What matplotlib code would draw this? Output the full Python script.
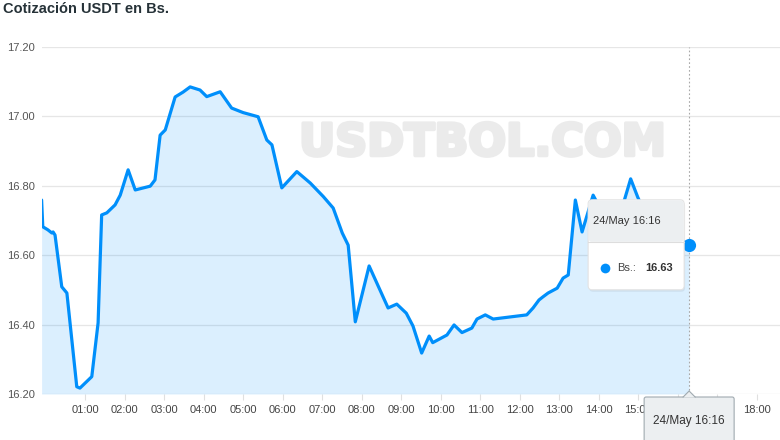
import matplotlib
matplotlib.use("Agg")
import matplotlib.pyplot as plt
import matplotlib.patheffects as pe
from matplotlib.patches import FancyBboxPatch, Polygon
from matplotlib.transforms import IdentityTransform

plt.rcParams['font.family'] = ['Liberation Sans', 'DejaVu Sans']

# USDT price in Bs. through the day (hours after midnight, 24/May)
hours = [-0.10, -0.07, 0.06, 0.16, 0.19, 0.24, 0.41, 0.54, 0.79, 0.87,
         1.17, 1.33, 1.42, 1.55, 1.76, 1.89, 2.09, 2.27, 2.65, 2.77,
         2.90, 3.03, 3.28, 3.48, 3.66, 3.91, 4.08, 4.42, 4.71, 5.00,
         5.38, 5.60, 5.73, 5.98, 6.36, 6.70, 7.03, 7.28, 7.51, 7.66,
         7.84, 8.19, 8.67, 8.89, 9.13, 9.30, 9.52, 9.71, 9.80, 10.16,
         10.34, 10.54, 10.79, 10.92, 11.13, 11.33, 12.18, 12.34, 12.49, 12.59,
         12.72, 12.95, 13.10, 13.23, 13.41, 13.58, 13.86, 14.20, 14.55, 14.81,
         14.99, 15.30, 16.29]
rate = [16.759, 16.682, 16.673, 16.664, 16.667, 16.658, 16.509, 16.491, 16.221, 16.217,
        16.250, 16.405, 16.716, 16.722, 16.745, 16.773, 16.846, 16.788, 16.799, 16.817,
        16.946, 16.961, 17.056, 17.070, 17.085, 17.076, 17.057, 17.071, 17.024, 17.011,
        16.999, 16.932, 16.918, 16.794, 16.841, 16.808, 16.769, 16.736, 16.664, 16.629,
        16.408, 16.569, 16.448, 16.459, 16.433, 16.396, 16.318, 16.367, 16.348, 16.370,
        16.399, 16.377, 16.390, 16.416, 16.428, 16.416, 16.428, 16.448, 16.471, 16.480,
        16.491, 16.505, 16.534, 16.543, 16.759, 16.667, 16.773, 16.700, 16.720, 16.820,
        16.767, 16.690, 16.630]

hour_ticks = list(range(1, 19))
hour_labels = [f"{h:02d}:00" for h in hour_ticks]
y_ticks = [16.20, 16.40, 16.60, 16.80, 17.00, 17.20]

hover_label = "24/May 16:16"
series_name = "Bs.:"

blue = '#008ffb'
W, H = 780, 440

fig = plt.figure(figsize=(W / 100, H / 100), dpi=100)
ax = fig.add_axes([42 / W, 1 - 394 / H, (W - 42) / W, (394 - 47) / H])
ax.set_xlim(-0.09, 18.59)
ax.set_ylim(16.20, 17.20)

for s in ax.spines.values():
    s.set_visible(False)
ax.set_yticks(y_ticks)
ax.set_yticklabels([f"{v:.2f}" for v in y_ticks])
ax.set_xticks(hour_ticks)
ax.set_xticklabels(hour_labels)
ax.tick_params(axis='y', length=0, pad=5, labelsize=8, labelcolor='#555555')
ax.tick_params(axis='x', length=4, width=0.8, color='#e0e0e0', pad=4,
               labelsize=8, labelcolor='#444444')
ax.grid(axis='y', color='#e6e6e6', lw=0.9)
ax.set_axisbelow(True)

# watermark
ax.text(0.5976, 0.7233, "USDTBOL.COM", transform=ax.transAxes, ha='center',
        va='center', fontsize=32, fontweight='bold', color='#ebebeb',
        family='DejaVu Sans', zorder=0,
        path_effects=[pe.withStroke(linewidth=2.5, foreground='#ebebeb')])

ax.fill_between(hours, rate, 16.20, color=blue, alpha=0.14, lw=0, zorder=1)
ax.plot(hours, rate, color=blue, lw=2.3, solid_joinstyle='round',
        solid_capstyle='round', zorder=3)

# hovered point
hx, hy = hours[-1], rate[-1]
ax.axvline(hx, color='#a8a8a8', lw=0.8, ls=(0, (1.5, 2)), zorder=2)
ax.plot([hx], [hy], 'o', color=blue, ms=9.5, mew=0, zorder=5, clip_on=False)

fig.canvas.draw()
px, py = ax.transData.transform((hx, hy))
ident = IdentityTransform()

# floating tooltip
bx0, bw = px - 101, 96
by_top, bh = py + 45, 90
shadow = FancyBboxPatch((bx0 + 1, by_top - bh - 2), bw, bh,
                        boxstyle="round,pad=0,rounding_size=4",
                        transform=ident, fc='#000000', alpha=0.06, ec='none', zorder=10)
body = FancyBboxPatch((bx0, by_top - bh), bw, bh,
                      boxstyle="round,pad=0,rounding_size=4",
                      transform=ident, fc='white', ec='#e3e3e3', lw=0.8, zorder=11)
header = FancyBboxPatch((bx0 + 0.5, by_top - 42), bw - 1, 41.5,
                        boxstyle="round,pad=0,rounding_size=3",
                        transform=ident, fc='#eceff1', ec='none', zorder=12)
for p in (shadow, body, header):
    fig.add_artist(p)
fig.add_artist(plt.Line2D([bx0, bx0 + bw], [by_top - 42, by_top - 42],
                          transform=ident, color='#dddddd', lw=0.8, zorder=13))
fig.text(bx0 + 5, by_top - 21, hover_label, transform=ident, fontsize=8,
         color='#333333', va='center', zorder=14)
fig.add_artist(plt.Line2D([bx0 + 17], [by_top - 68], transform=ident, marker='o',
                          ms=7, color=blue, mew=0, zorder=14))
fig.text(bx0 + 29, by_top - 68, series_name, transform=ident, fontsize=8,
         color='#444444', va='center', zorder=14)
fig.text(bx0 + 57, by_top - 68, f"{hy:.2f}", transform=ident, fontsize=8,
         fontweight='bold', color='#333333', va='center', zorder=14)

# x-axis tooltip
ax_bottom = ax.transAxes.transform((0, 0))[1]
tb_top = ax_bottom - 3
xtip = FancyBboxPatch((px - 45, -10), 90, tb_top + 10,
                      boxstyle="round,pad=0,rounding_size=2",
                      transform=ident, fc='#eceff1', ec='#a0aab0', lw=0.8, zorder=15)
fig.add_artist(xtip)
fig.add_artist(Polygon([[px - 6, tb_top - 0.5], [px, tb_top + 6], [px + 6, tb_top - 0.5]],
                       closed=True, transform=ident, fc='#eceff1', ec='none', zorder=16))
fig.add_artist(plt.Line2D([px - 6, px, px + 6], [tb_top, tb_top + 6, tb_top],
                          transform=ident, color='#a0aab0', lw=0.8, zorder=16))
fig.text(px, tb_top - 24, hover_label, transform=ident, fontsize=8.5,
         color='#333333', ha='center', va='center', zorder=17)

fig.text(3 / W, 1 - 9 / H, "Cotización USDT en Bs.", fontsize=10.5,
         fontweight='bold', color='#263238', va='center')

fig.savefig("out.png", dpi=100)
